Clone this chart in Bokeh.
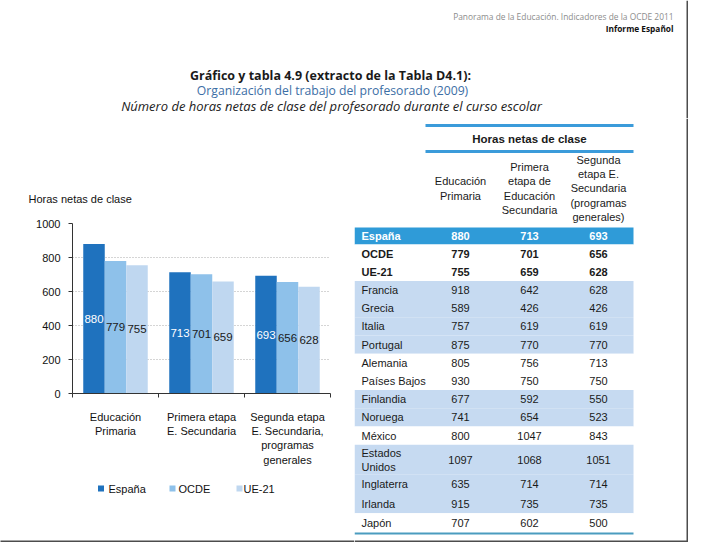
from bokeh.plotting import figure
from bokeh.models import ColumnDataSource, Range1d, FixedTicker
from bokeh.layouts import column, row
from bokeh.transform import dodge
from bokeh.core.properties import value
from bokeh.embed import file_html
from bokeh.resources import INLINE

# ---------------- data ----------------
header_line1 = "Panorama de la Educación. Indicadores de la OCDE 2011"
header_line2 = "Informe Español"
title_line1 = "Gráfico y tabla 4.9 (extracto de la Tabla D4.1):"
title_line2 = "Organización del trabajo del profesorado (2009)"
title_line3 = "Número de horas netas de clase del profesorado durante el curso escolar"
y_label = "Horas netas de clase"

niveles = ["Educación Primaria", "Primera etapa E. Secundaria",
           "Segunda etapa E. Secundaria, programas generales"]
niveles_etiqueta = ["Educación\nPrimaria", "Primera etapa\nE. Secundaria",
                    "Segunda etapa\nE. Secundaria,\nprogramas\ngenerales"]
series = ["España", "OCDE", "UE-21"]
espana = [880, 713, 693]
ocde = [779, 701, 656]
ue21 = [755, 659, 628]
y_ticks = [0, 200, 400, 600, 800, 1000]

tabla_cabecera = "Horas netas de clase"
tabla_columnas = ["Educación\nPrimaria",
                  "Primera\netapa de\nEducación\nSecundaria",
                  "Segunda\netapa E.\nSecundaria\n(programas\ngenerales)"]
paises = ["España", "OCDE", "UE-21", "Francia", "Grecia", "Italia", "Portugal",
          "Alemania", "Países Bajos", "Finlandia", "Noruega", "México",
          "Estados\nUnidos", "Inglaterra", "Irlanda", "Japón"]
tabla_primaria = [880, 779, 755, 918, 589, 757, 875, 805, 930, 677, 741, 800, 1097, 635, 915, 707]
tabla_sec1 = [713, 701, 659, 642, 426, 619, 770, 756, 750, 592, 654, 1047, 1068, 714, 735, 602]
tabla_sec2 = [693, 656, 628, 628, 426, 619, 770, 713, 750, 550, 523, 843, 1051, 714, 735, 500]
filas_destacadas = ["España"]
filas_negrita = ["España", "OCDE", "UE-21"]
filas_banda = ["Francia", "Grecia", "Italia", "Portugal", "Finlandia", "Noruega",
               "Estados\nUnidos", "Inglaterra", "Irlanda"]

# ---------------- style ----------------
COLORS = ["#1F72BE", "#8EC1EA", "#BFD7F0"]
FONT = "Liberation Sans"
TFONT = "Open Sans"
SHADOW = "#4d4d4d"
W, H = 688, 542
LEFT_W = 354
FL, FR = 72, 330          # chart frame left / right (px)


def canvas(x0, x1, y0, y1, width=None, bl=0, br=0):
    p = figure(width=int(width if width else x1 - x0), height=int(y1 - y0),
               x_range=Range1d(x0, x1), y_range=Range1d(y1, y0),
               output_backend="svg", toolbar_location=None, min_border=0,
               min_border_left=bl, min_border_right=br,
               x_axis_location=None, y_axis_location=None)
    p.outline_line_color = None
    p.xgrid.visible = False
    p.ygrid.visible = False
    p.background_fill_color = "white"
    p.border_fill_color = "white"
    return p


# ---------------- header ----------------
hdr = canvas(0, W, 0, 118)
hdr.text(x=[673], y=[16], text=[header_line1], text_align="right", text_baseline="middle",
         text_font=value(TFONT), text_font_size="8.4px", text_color="#8c8c8c")
hdr.text(x=[673], y=[28], text=[header_line2], text_align="right", text_baseline="middle",
         text_font=value(TFONT), text_font_size="8.3px", text_font_style="bold", text_color="#111111")
hdr.text(x=[330], y=[75], text=[title_line1], text_align="center", text_baseline="middle",
         text_font=value(TFONT), text_font_size="12.5px", text_font_style="bold", text_color="#1a1a1a")
hdr.text(x=[332], y=[90], text=[title_line2], text_align="center", text_baseline="middle",
         text_font=value(TFONT), text_font_size="12.2px", text_color="#3C6EA5")
hdr.text(x=[331], y=[105], text=[title_line3], text_align="center", text_baseline="middle",
         text_font=value(TFONT), text_font_size="13px", text_font_style="italic", text_color="#222222")
hdr.segment(x0=[687], x1=[687], y0=[0], y1=[118], line_color=SHADOW, line_width=2)

# ---------------- y label (same side borders as the chart) ----------------
ylab = canvas(FL, FR, 118, 210, width=LEFT_W, bl=FL, br=LEFT_W - FR)
ylab.text(x=[28], y=[198], text=[y_label], text_align="left", text_baseline="middle",
          text_font=value(FONT), text_font_size="11px", text_color="#111111", level="overlay")

# ---------------- bar chart ----------------
n = len(niveles)
src = ColumnDataSource(dict(
    nivel=niveles,
    pos=[i + 0.5 for i in range(n)],
    espana=espana, ocde=ocde, ue21=ue21,
    espana_mid=[v / 2 for v in espana], ocde_mid=[v / 2 for v in ocde], ue21_mid=[v / 2 for v in ue21],
    espana_txt=[str(v) for v in espana], ocde_txt=[str(v) for v in ocde], ue21_txt=[str(v) for v in ue21],
))

chart = figure(width=LEFT_W, height=260, x_range=Range1d(0, n),
               y_range=Range1d(y_ticks[0], y_ticks[-1]),
               output_backend="svg", toolbar_location=None,
               min_border_left=FL, min_border_right=LEFT_W - FR, min_border_top=13, min_border_bottom=77)
chart.outline_line_color = None
chart.background_fill_color = "white"
chart.border_fill_color = "white"
chart.xgrid.visible = False

chart.yaxis.ticker = FixedTicker(ticks=y_ticks)
chart.yaxis.minor_tick_line_color = None
chart.yaxis.major_tick_out = 4
chart.yaxis.major_tick_in = 0
chart.yaxis.axis_line_color = "#333333"
chart.yaxis.major_tick_line_color = "#333333"
chart.yaxis.major_label_standoff = 8
chart.yaxis.major_label_text_font = FONT
chart.yaxis.major_label_text_font_size = "11px"
chart.yaxis.major_label_text_color = "#111111"
chart.ygrid.grid_line_color = "#aaaaaa"
chart.ygrid.grid_line_dash = "1 2"

xax = chart.xaxis[0]
xax.ticker = FixedTicker(ticks=[i + 0.5 for i in range(n)], minor_ticks=list(range(n + 1)))
xax.major_label_overrides = {i + 0.5: lbl for i, lbl in enumerate(niveles_etiqueta)}
xax.major_tick_in = 0
xax.major_tick_out = 0
xax.major_tick_line_color = None
xax.minor_tick_in = 0
xax.minor_tick_out = 4
xax.minor_tick_line_color = "#333333"
xax.axis_line_color = "#333333"
xax.major_label_standoff = 13
xax.major_label_text_font = FONT
xax.major_label_text_font_size = "11px"
xax.major_label_text_color = "#111111"

offsets = [-0.25, 0.0, 0.25]
keys = ["espana", "ocde", "ue21"]
label_colors = ["white", "#1a1a1a", "#1a1a1a"]
for key, off, color, lc in zip(keys, offsets, COLORS, label_colors):
    chart.vbar(x=dodge("pos", off), top=key, width=0.25,
               source=src, fill_color=color, line_color=None)
    chart.text(x=dodge("pos", off), y=key + "_mid", text=key + "_txt",
               source=src, text_align="center", text_baseline="middle",
               text_font=value(FONT), text_font_size="11.5px", text_color=lc)

# ---------------- legend (same side borders as the chart) ----------------
leg = canvas(FL, FR, 470, H, width=LEFT_W, bl=FL, br=LEFT_W - FR)
leg_sq_x = [100.5, 172, 239]
leg_tx_x = [108, 178, 243]
leg.scatter(x=leg_sq_x, y=[488] * 3, marker="square", size=6, fill_color=COLORS, line_color=None)
leg.text(x=leg_tx_x, y=[488] * 3, text=series, text_align="left", text_baseline="middle",
         text_font=value(FONT), text_font_size="11px", text_color="#111111")
leg.segment(x0=[0], x1=[LEFT_W], y0=[541], y1=[541], line_color=SHADOW, line_width=2, level="overlay")

# ---------------- table ----------------
tab = canvas(LEFT_W, W, 118, H)
row_heights = [17] + [18.2] * 11 + [30, 19.3, 19.3, 19.3]
tops, bottoms, centers = [], [], []
y = 227
for h in row_heights:
    tops.append(y)
    bottoms.append(y + h)
    centers.append(y + h / 2)
    y += h

fills, styles, tcolors = [], [], []
for name in paises:
    if name in filas_destacadas:
        fills.append("#2F9BD8")
        tcolors.append("white")
    elif name in filas_banda:
        fills.append("#C6DAF1")
        tcolors.append("#1a1a1a")
    else:
        fills.append("white")
        tcolors.append("#1a1a1a")
    styles.append("bold" if name in filas_negrita else "normal")

tsrc = ColumnDataSource(dict(
    top=tops, bottom=bottoms, y=centers, fill=fills, style=styles, color=tcolors,
    pais=paises,
    c1=[str(v) for v in tabla_primaria],
    c2=[str(v) for v in tabla_sec1],
    c3=[str(v) for v in tabla_sec2],
))
TL, TR, TC = 354, 633, 425
col_x = [460, 529, 598]

tab.quad(left=TL, right=TR, top="top", bottom="bottom", fill_color="fill", line_color=None, source=tsrc)
tab.text(x=361, y="y", text="pais", source=tsrc, text_align="left", text_baseline="middle",
         text_font=value(FONT), text_font_size="11px", text_font_style="style", text_color="color")
for cx, col in zip(col_x, ["c1", "c2", "c3"]):
    tab.text(x=cx, y="y", text=col, source=tsrc, text_align="center", text_baseline="middle",
             text_font=value(FONT), text_font_size="11px", text_font_style="style", text_color="color")

tab.segment(x0=[TC, TC], x1=[TR, TR], y0=[125, 151], y1=[125, 151], line_color="#3B9BDA", line_width=3)
tab.text(x=[529], y=[138], text=[tabla_cabecera], text_align="center", text_baseline="middle",
         text_font=value(FONT), text_font_size="11.5px", text_font_style="bold", text_color="#1a1a1a")
tab.text(x=col_x, y=[188] * 3, text=tabla_columnas, text_align="center", text_baseline="middle",
         text_font=value(FONT), text_font_size="11px", text_color="#1a1a1a", text_line_height=1.2)
tab.segment(x0=[TL], x1=[TR], y0=[533], y1=[533], line_color="#4B9CBF", line_width=2)
tab.segment(x0=[687], x1=[687], y0=[118], y1=[H], line_color=SHADOW, line_width=2)
tab.segment(x0=[LEFT_W], x1=[W], y0=[541], y1=[541], line_color=SHADOW, line_width=2)

layout = column(hdr, row(column(ylab, chart, leg), tab))

open("out.html", "w").write(file_html(layout, INLINE))
